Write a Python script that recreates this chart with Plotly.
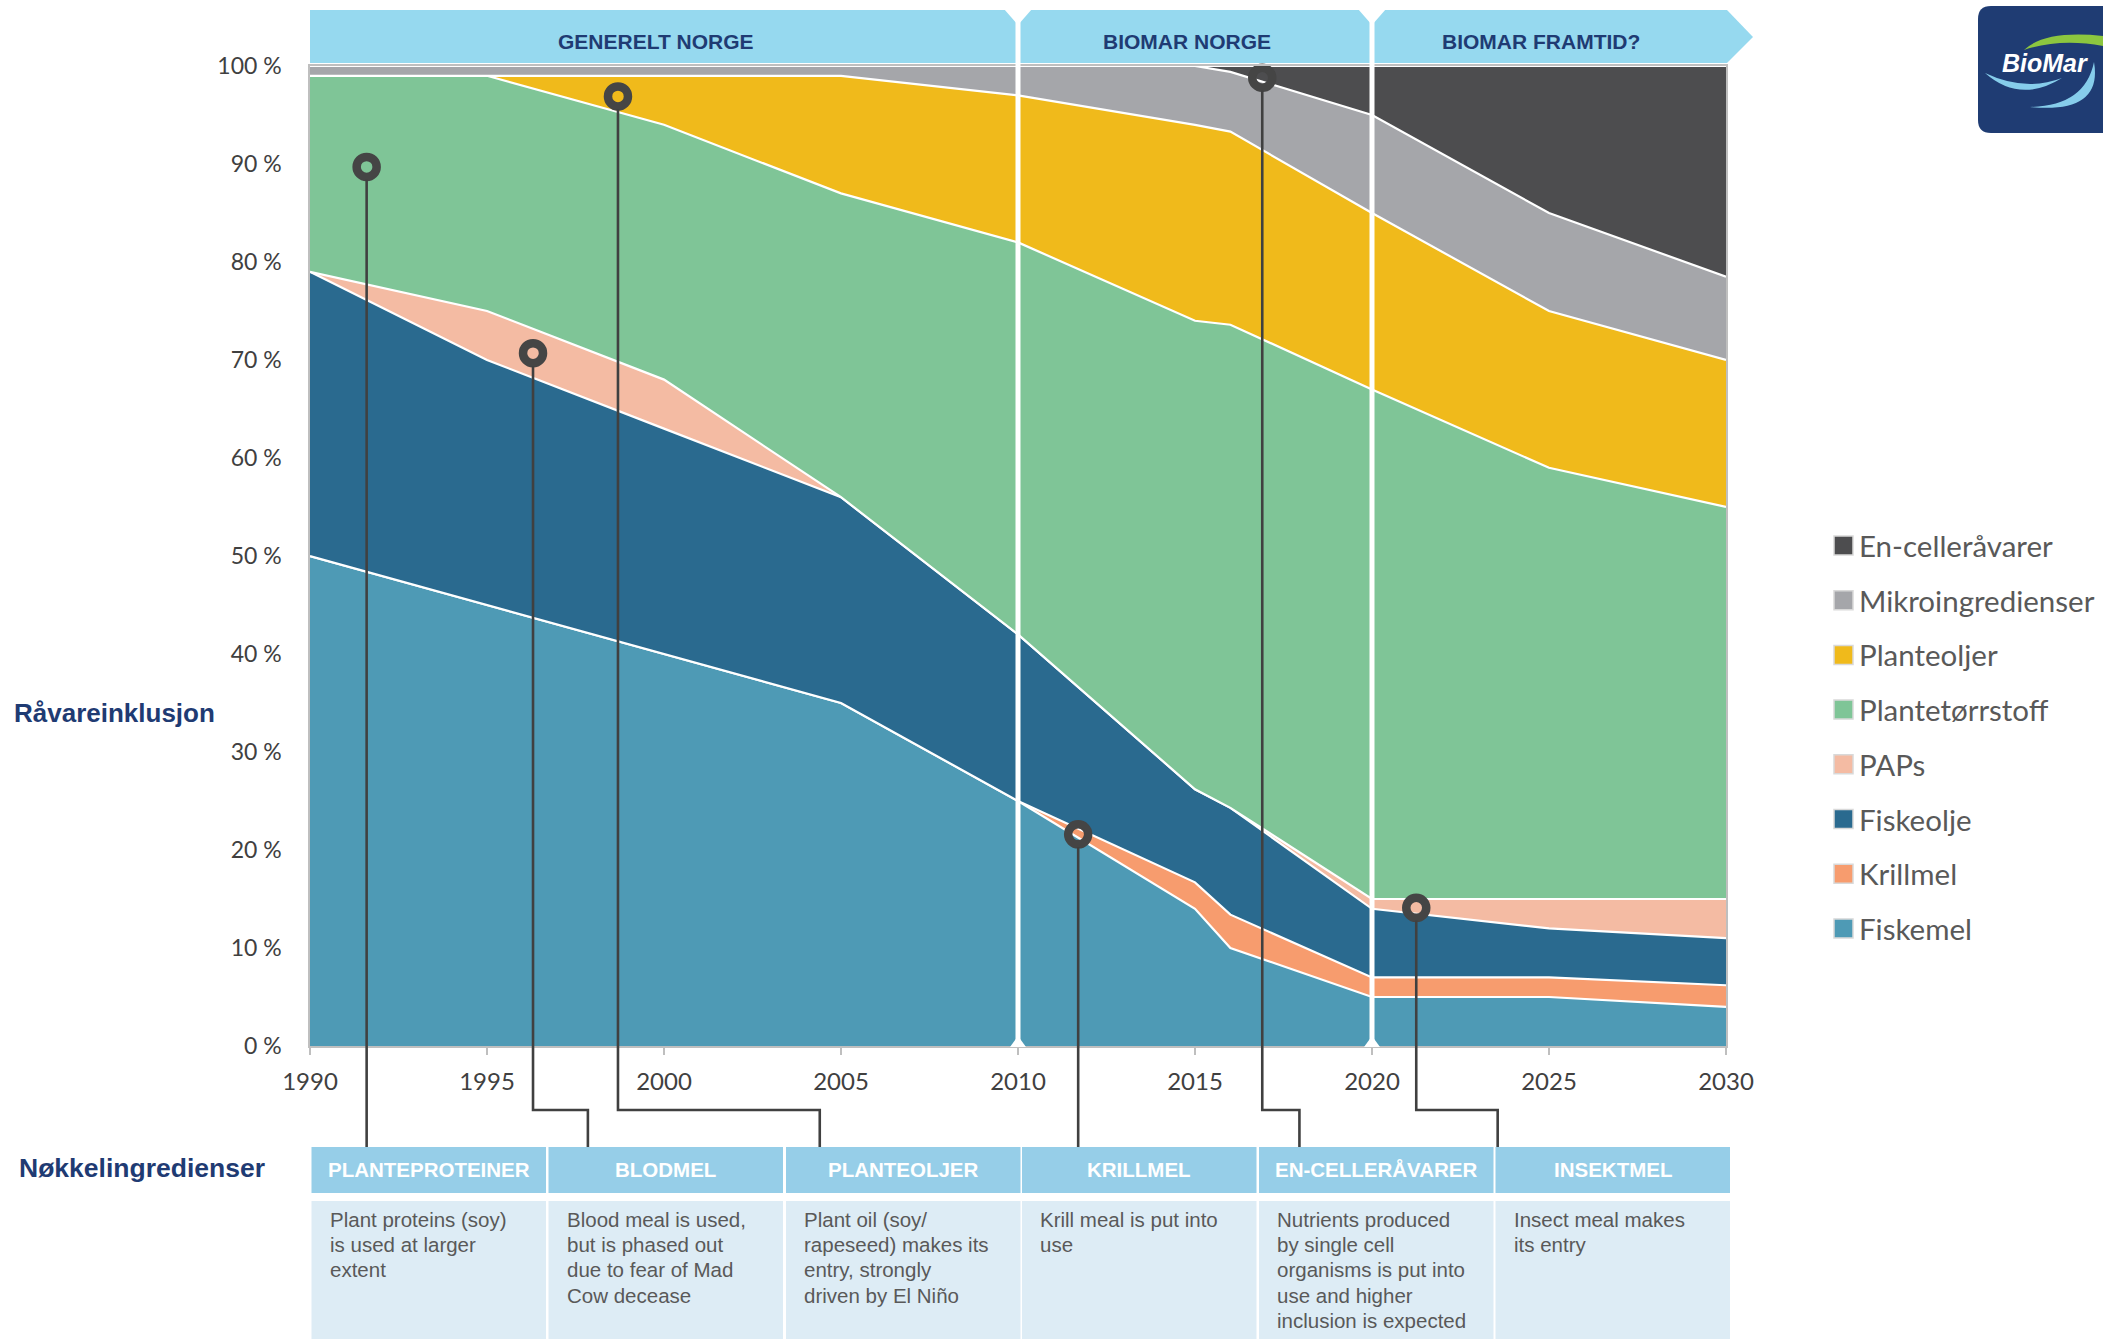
import plotly.graph_objects as go

# ---------------- data ----------------
years = [1990, 1995, 2000, 2005, 2010, 2015, 2016, 2020, 2025, 2030]
fiskemel = [50, 45, 40, 35, 25, 14, 10, 5, 5, 4]
krillmel = [0, 0, 0, 0, 0, 2.7, 3.4, 2, 2, 2.2]
fiskeolje = [29, 25, 23, 21, 17, 9.5, 10.9, 7, 5, 4.8]
paps = [0, 5, 5, 0, 0, 0, 0, 1, 3, 4]
plantetorrstoff = [20, 24, 26, 31, 40, 47.8, 49.3, 52, 44, 40]
planteoljer = [0, 0, 5, 12, 15, 20, 19.7, 18, 16, 15]
mikroingredienser = [1, 1, 1, 1, 3, 6, 6.1, 10, 10, 8.5]
encelleravarer = [0, 0, 0, 0, 0, 0, 0.6, 5, 15, 21.5]

series_names = ["Fiskemel", "Krillmel", "Fiskeolje", "PAPs", "Plantetørrstoff",
                "Planteoljer", "Mikroingredienser", "En-celleråvarer"]
series_values = [fiskemel, krillmel, fiskeolje, paps, plantetorrstoff,
                 planteoljer, mikroingredienser, encelleravarer]
series_colors = ["#4E9AB5", "#F79C6E", "#2A6A8F", "#F4BBA3", "#7FC597",
                 "#F0BA1B", "#A5A6AA", "#4D4D4F"]

x_tick_vals = [1990, 1995, 2000, 2005, 2010, 2015, 2020, 2025, 2030]
x_tick_text = ["1990", "1995", "2000", "2005", "2010", "2015", "2020", "2025", "2030"]
y_tick_vals = [0, 10, 20, 30, 40, 50, 60, 70, 80, 90, 100]
y_tick_text = ["0 %", "10 %", "20 %", "30 %", "40 %", "50 %", "60 %", "70 %", "80 %", "90 %", "100 %"]

period_labels = ["GENERELT NORGE", "BIOMAR NORGE", "BIOMAR FRAMTID?"]
period_centers = [2000, 2015, 2025]
period_breaks = [2010, 2020]

callout_x = [1991.6, 1996.3, 1998.7, 2011.7, 2016.9, 2021.25]
callout_y = [89.7, 70.7, 96.9, 21.6, 98.8, 14.1]
callout_elbow_x = [1991.6, 1997.85, 2004.4, 2011.7, 2017.95, 2023.55]

table_headers = ["PLANTEPROTEINER", "BLODMEL", "PLANTEOLJER", "KRILLMEL",
                 "EN-CELLERÅVARER", "INSEKTMEL"]
table_texts = [
    ["Plant proteins (soy)", "is used at larger", "extent"],
    ["Blood meal is used,", "but is phased out", "due to fear of Mad", "Cow decease"],
    ["Plant oil (soy/", "rapeseed) makes its", "entry, strongly", "driven by El Niño"],
    ["Krill meal is put into", "use"],
    ["Nutrients produced", "by single cell", "organisms is put into", "use and higher",
     "inclusion is expected"],
    ["Insect meal makes", "its entry"],
]

# ---------------- layout geometry (pixels) ----------------
W, H = 2103, 1339
L, R, T, B = 310, 1726, 66, 1046


def PX(x):
    return (x - L) / (R - L)


def PY(y):
    return (B - y) / (B - T)


def XD(year):
    return PX(L + (year - 1990) * (R - L) / 40.0)


NAVY = "#1F3B73"
ARIAL = "Liberation Sans, Arial, sans-serif"
CALIBRI = "Lato, Open Sans, sans-serif"

fig = go.Figure()

for name, vals, col in zip(series_names, series_values, series_colors):
    fig.add_trace(go.Scatter(
        x=years, y=vals, name=name, stackgroup="one", mode="lines",
        line=dict(color="white", width=2.2), fillcolor=col,
        showlegend=False, hoverinfo="skip"))

shapes = []
annotations = []

# banner (chevron band above the plot)
bx0, bx1, tipx = PX(310), PX(1727), PX(1753)
by0, by1 = PY(63), PY(10)
bym = PY(37)
shapes.append(dict(type="path", xref="paper", yref="paper", layer="above",
                   path=f"M {bx0},{by0} L {bx1},{by0} L {tipx},{bym} L {bx1},{by1} L {bx0},{by1} Z",
                   fillcolor="#96D9EF", line=dict(width=0)))

# period separators
for xb in period_breaks:
    xp = XD(xb)
    shapes.append(dict(type="line", xref="paper", yref="paper", layer="above",
                       x0=xp, x1=xp, y0=0, y1=PY(10), line=dict(color="white", width=5)))
    d = PX(L + 14) - PX(L)
    shapes.append(dict(type="path", xref="paper", yref="paper", layer="above",
                       path=f"M {xp - d},{PY(9)} L {xp + d},{PY(9)} L {xp},{PY(25)} Z",
                       fillcolor="white", line=dict(width=0)))
    d2 = PX(L + 8) - PX(L)
    shapes.append(dict(type="path", xref="paper", yref="paper", layer="above",
                       path=f"M {xp - d2},{PY(1047)} L {xp + d2},{PY(1047)} L {xp},{PY(1036)} Z",
                       fillcolor="white", line=dict(width=0)))

label_shift = PX(L + 8) - PX(L)
for lab, xc in zip(period_labels, period_centers):
    annotations.append(dict(x=XD(xc) - label_shift, y=PY(41.5), xref="paper", yref="paper",
                            text=f"<b>{lab}</b>",
                            showarrow=False, font=dict(family=ARIAL, size=21, color=NAVY),
                            xanchor="center", yanchor="middle"))

# callout connector lines
elbow_y = PY(1110)
head_top = PY(1147)
r_ring = 1.3
for cx, cy, ex in zip(callout_x, callout_y, callout_elbow_x):
    ys = (cy - r_ring) / 100
    if abs(ex - cx) < 1e-6:
        p = f"M {cx},{ys} L {cx},{head_top}"
    else:
        p = f"M {cx},{ys} L {cx},{elbow_y} L {ex},{elbow_y} L {ex},{head_top}"
    shapes.append(dict(type="path", xref="x", yref="paper", layer="above", path=p,
                       line=dict(color="#404040", width=2.6)))

fig.add_trace(go.Scatter(
    x=callout_x, y=callout_y, mode="markers", showlegend=False, hoverinfo="skip",
    cliponaxis=False,
    marker=dict(symbol="circle-open", size=20, color="#454545",
                line=dict(width=8.5, color="#454545"))))

# table
col_left = [311.5, 548.5, 786, 1022, 1259, 1495.5]
col_w = 234.5
for i, (hd, lines) in enumerate(zip(table_headers, table_texts)):
    x0 = col_left[i]
    x1 = x0 + col_w
    shapes.append(dict(type="rect", xref="paper", yref="paper", layer="above",
                       x0=PX(x0), x1=PX(x1), y0=PY(1193), y1=PY(1147),
                       fillcolor="#96CEE8", line=dict(width=0)))
    shapes.append(dict(type="rect", xref="paper", yref="paper", layer="above",
                       x0=PX(x0), x1=PX(x1), y0=PY(1345), y1=PY(1201),
                       fillcolor="#DDECF5", line=dict(width=0)))
    annotations.append(dict(x=PX((x0 + x1) / 2), y=PY(1169.5), xref="paper", yref="paper",
                            text=f"<b>{hd}</b>", showarrow=False,
                            font=dict(family=ARIAL, size=20.5, color="white"),
                            xanchor="center", yanchor="middle"))
    for j, ln in enumerate(lines):
        annotations.append(dict(x=PX(x0 + 16), y=PY(1219 + j * 25.4), xref="paper", yref="paper",
                                text=ln, showarrow=False, align="left",
                                font=dict(family=ARIAL, size=20.5, color="#595959"),
                                xanchor="left", yanchor="middle"))

# side titles
annotations.append(dict(x=PX(12), y=PY(713), xref="paper", yref="paper",
                        text="<b>Råvareinklusjon</b>", showarrow=False,
                        font=dict(family=ARIAL, size=26, color=NAVY),
                        xanchor="left", yanchor="middle"))
annotations.append(dict(x=PX(17), y=PY(1168), xref="paper", yref="paper",
                        text="<b>Nøkkelingredienser</b>", showarrow=False,
                        font=dict(family=ARIAL, size=26.5, color=NAVY),
                        xanchor="left", yanchor="middle"))

# manual legend (top = last series)
leg_y0 = 545.5
leg_dy = 54.7
for k, (name, col) in enumerate(zip(series_names[::-1], series_colors[::-1])):
    yc = leg_y0 + k * leg_dy
    shapes.append(dict(type="rect", xref="paper", yref="paper", layer="above",
                       x0=PX(1834), x1=PX(1853), y0=PY(yc + 9.5), y1=PY(yc - 9.5),
                       fillcolor=col, line=dict(color="#D9D9D9", width=1.5)))
    annotations.append(dict(x=PX(1857), y=PY(yc), xref="paper", yref="paper",
                            text=name, showarrow=False,
                            font=dict(family=CALIBRI, size=29.5, color="#595959"),
                            xanchor="left", yanchor="middle"))

# logo
lx0, lx1, ly0, ly1, rr = 1978, 2120, 6, 133, 13
shapes.append(dict(type="path", xref="paper", yref="paper", layer="above",
                   path=(f"M {PX(lx0 + rr)},{PY(ly0)} L {PX(lx1)},{PY(ly0)} L {PX(lx1)},{PY(ly1)} "
                         f"L {PX(lx0 + rr)},{PY(ly1)} Q {PX(lx0)},{PY(ly1)} {PX(lx0)},{PY(ly1 - rr)} "
                         f"L {PX(lx0)},{PY(ly0 + rr)} Q {PX(lx0)},{PY(ly0)} {PX(lx0 + rr)},{PY(ly0)} Z"),
                   fillcolor="#1F3C73", line=dict(width=0)))
shapes.append(dict(type="path", xref="paper", yref="paper", layer="above",
                   path=(f"M {PX(2024)},{PY(50)} Q {PX(2045)},{PY(30)} {PX(2103)},{PY(36)} "
                         f"L {PX(2103)},{PY(46)} Q {PX(2060)},{PY(38)} {PX(2024)},{PY(50)} Z"),
                   fillcolor="#8CC63F", line=dict(width=0)))
shapes.append(dict(type="path", xref="paper", yref="paper", layer="above",
                   path=(f"M {PX(1985)},{PY(73)} Q {PX(2020)},{PY(104)} {PX(2062)},{PY(78)} "
                         f"Q {PX(2025)},{PY(92)} {PX(1985)},{PY(73)} Z"),
                   fillcolor="#86CDEB", line=dict(width=0)))
shapes.append(dict(type="path", xref="paper", yref="paper", layer="above",
                   path=(f"M {PX(2030)},{PY(107)} Q {PX(2085)},{PY(106)} {PX(2094)},{PY(62)} "
                         f"Q {PX(2103)},{PY(114)} {PX(2030)},{PY(107)} Z"),
                   fillcolor="#86CDEB", line=dict(width=0)))
annotations.append(dict(x=PX(2045), y=PY(63), xref="paper", yref="paper",
                        text="<b><i>BioMar</i></b>", showarrow=False,
                        font=dict(family=ARIAL, size=25, color="white"),
                        xanchor="center", yanchor="middle"))

fig.update_layout(
    width=W, height=H, autosize=False,
    margin=dict(l=L, r=W - R, t=T, b=H - B, pad=0),
    paper_bgcolor="white", plot_bgcolor="white",
    showlegend=False,
    shapes=shapes, annotations=annotations,
    xaxis=dict(range=[1990, 2030], tickvals=x_tick_vals, ticktext=x_tick_text,
               showgrid=False, zeroline=False, showline=True, mirror=True,
               linecolor="#BFBFBF", linewidth=1.5, ticks="outside", ticklen=7,
               tickcolor="#BFBFBF", tickwidth=1.5, ticklabelstandoff=6,
               tickfont=dict(family=CALIBRI, size=24, color="#404040")),
    yaxis=dict(range=[0, 100], tickvals=y_tick_vals, ticktext=y_tick_text,
               showgrid=False, zeroline=False, showline=True, mirror=True,
               linecolor="#BFBFBF", linewidth=1.5, ticks="", ticklabelstandoff=22,
               tickfont=dict(family=CALIBRI, size=23, color="#404040")),
)

fig.write_html("out.html", config={"displayModeBar": False},
               post_script="document.body.style.margin='0';")
